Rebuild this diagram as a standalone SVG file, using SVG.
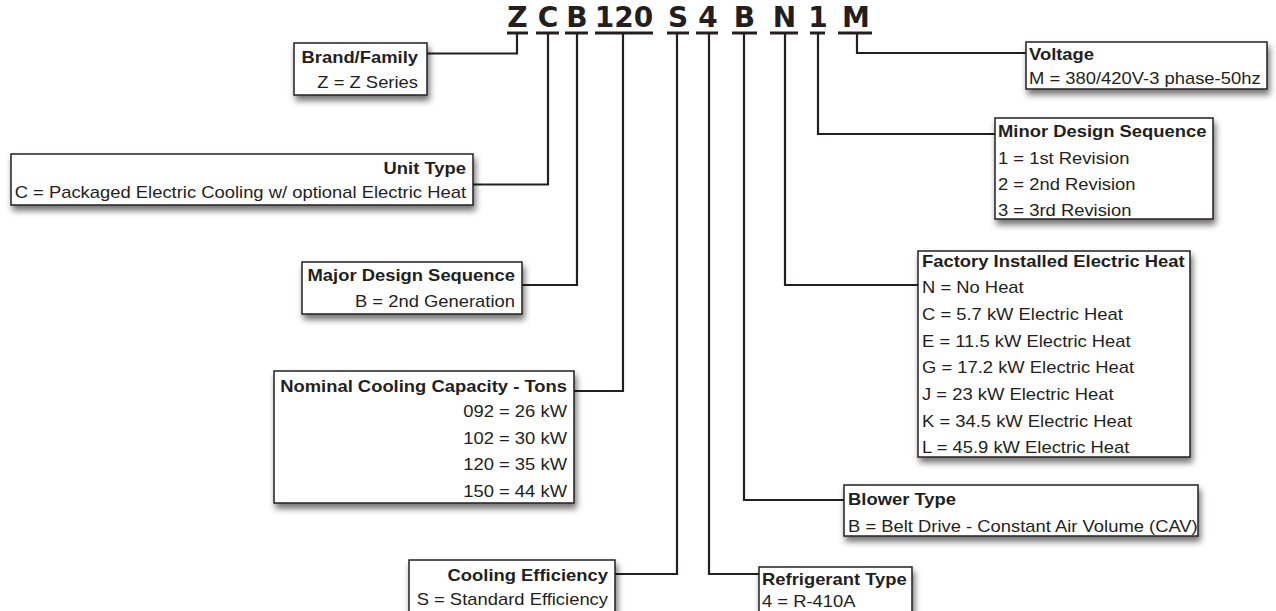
<svg xmlns="http://www.w3.org/2000/svg" width="1276" height="611" viewBox="0 0 1276 611">
<defs>
<style>
.code{font-family:"DejaVu Sans",sans-serif;font-weight:bold;font-size:28px;fill:#231f20;text-anchor:middle}
.ul{fill:#231f20}
.box{fill:#fff;stroke:#231f20;stroke-width:1.5;filter:url(#sh)}
.t{font-family:"Liberation Sans",Arial,sans-serif;font-size:16px;fill:#231f20}
.h{font-weight:bold}
.r{text-anchor:end}
.con{fill:none;stroke:#231f20;stroke-width:2.2}
</style>
<filter id="sh" x="-10%" y="-20%" width="130%" height="160%">
<feDropShadow dx="2" dy="5" stdDeviation="3" flood-color="#000" flood-opacity="0.55"/>
</filter>
</defs>
<rect width="1276" height="611" fill="#fff"/>

<g id="code">
<text class="code" x="517.5" y="27">Z</text>
<text class="code" x="548" y="27">C</text>
<text class="code" x="577" y="27">B</text>
<text class="code" x="624" y="27">120</text>
<text class="code" x="678" y="27">S</text>
<text class="code" x="708" y="27">4</text>
<text class="code" x="744.5" y="27">B</text>
<text class="code" x="784.5" y="27">N</text>
<text class="code" x="818" y="27">1</text>
<text class="code" x="856" y="27">M</text>
<rect class="ul" x="507" y="31.5" width="21" height="3"/>
<rect class="ul" x="536" y="31.5" width="23" height="3"/>
<rect class="ul" x="565" y="31.5" width="23" height="3"/>
<rect class="ul" x="595" y="31.5" width="58" height="3"/>
<rect class="ul" x="667" y="31.5" width="22" height="3"/>
<rect class="ul" x="696" y="31.5" width="22" height="3"/>
<rect class="ul" x="732" y="31.5" width="25" height="3"/>
<rect class="ul" x="770" y="31.5" width="28" height="3"/>
<rect class="ul" x="810" y="31.5" width="15" height="3"/>
<rect class="ul" x="838" y="31.5" width="34" height="3"/>
</g>

<g id="connectors">
<path class="con" d="M517,34 V53.5 H427"/>
<path class="con" d="M548,34 V184.5 H473"/>
<path class="con" d="M577,34 V285 H522"/>
<path class="con" d="M623,34 V391 H574"/>
<path class="con" d="M677,34 V574 H615"/>
<path class="con" d="M709,34 V574 H759"/>
<path class="con" d="M744,34 V500 H844"/>
<path class="con" d="M785,34 V285 H918"/>
<path class="con" d="M818,34 V134 H995"/>
<path class="con" d="M857,34 V53 H1026"/>
</g>

<g id="brand">
<rect class="box" x="294" y="43" width="133" height="52"/>
<text class="t h r" transform="translate(418,63) scale(1.15,1)">Brand/Family</text>
<text class="t r" transform="translate(418,88) scale(1.15,1)">Z = Z Series</text>
</g>

<g id="unit-type">
<rect class="box" x="11" y="154" width="462" height="51"/>
<text class="t h r" transform="translate(466,174) scale(1.15,1)">Unit Type</text>
<text class="t r" transform="translate(466,198) scale(1.15,1)">C = Packaged Electric Cooling w/ optional Electric Heat</text>
</g>

<g id="major-design">
<rect class="box" x="302" y="262" width="220" height="52"/>
<text class="t h r" transform="translate(515,281) scale(1.15,1)">Major Design Sequence</text>
<text class="t r" transform="translate(515,307) scale(1.15,1)">B = 2nd Generation</text>
</g>

<g id="nominal-capacity">
<rect class="box" x="274" y="371" width="300" height="132"/>
<text class="t h r" transform="translate(567,392) scale(1.15,1)">Nominal Cooling Capacity - Tons</text>
<text class="t r" transform="translate(567,417) scale(1.15,1)">092 = 26 kW</text>
<text class="t r" transform="translate(567,443.5) scale(1.15,1)">102 = 30 kW</text>
<text class="t r" transform="translate(567,470) scale(1.15,1)">120 = 35 kW</text>
<text class="t r" transform="translate(567,496.5) scale(1.15,1)">150 = 44 kW</text>
</g>

<g id="cooling-efficiency">
<rect class="box" x="409" y="560" width="206" height="62"/>
<text class="t h r" transform="translate(608,581) scale(1.15,1)">Cooling Efficiency</text>
<text class="t r" transform="translate(608,605) scale(1.15,1)">S = Standard Efficiency</text>
</g>

<g id="voltage">
<rect class="box" x="1026" y="42" width="241" height="47"/>
<text class="t h" transform="translate(1029,59.5) scale(1.15,1)">Voltage</text>
<text class="t" transform="translate(1029,83.5) scale(1.15,1)">M = 380/420V-3 phase-50hz</text>
</g>

<g id="minor-design">
<rect class="box" x="995" y="118" width="218" height="101"/>
<text class="t h" transform="translate(998,137) scale(1.15,1)">Minor Design Sequence</text>
<text class="t" transform="translate(998,163.5) scale(1.15,1)">1 = 1st Revision</text>
<text class="t" transform="translate(998,190) scale(1.15,1)">2 = 2nd Revision</text>
<text class="t" transform="translate(998,216) scale(1.15,1)">3 = 3rd Revision</text>
</g>

<g id="electric-heat">
<rect class="box" x="918" y="251" width="272" height="206"/>
<text class="t h" transform="translate(922,266.5) scale(1.15,1)">Factory Installed Electric Heat</text>
<text class="t" transform="translate(922,293) scale(1.15,1)">N = No Heat</text>
<text class="t" transform="translate(922,320) scale(1.15,1)">C = 5.7 kW Electric Heat</text>
<text class="t" transform="translate(922,346.5) scale(1.15,1)">E = 11.5 kW Electric Heat</text>
<text class="t" transform="translate(922,373) scale(1.15,1)">G = 17.2 kW Electric Heat</text>
<text class="t" transform="translate(922,400) scale(1.15,1)">J = 23 kW Electric Heat</text>
<text class="t" transform="translate(922,426.5) scale(1.15,1)">K = 34.5 kW Electric Heat</text>
<text class="t" transform="translate(922,453) scale(1.15,1)">L = 45.9 kW Electric Heat</text>
</g>

<g id="blower-type">
<rect class="box" x="844" y="485" width="354" height="51"/>
<text class="t h" transform="translate(848,505) scale(1.15,1)">Blower Type</text>
<text class="t" transform="translate(848,532) scale(1.15,1)">B = Belt Drive - Constant Air Volume (CAV)</text>
</g>

<g id="refrigerant-type">
<rect class="box" x="759" y="567" width="153" height="60"/>
<text class="t h" transform="translate(762,585) scale(1.15,1)">Refrigerant Type</text>
<text class="t" transform="translate(762,607) scale(1.15,1)">4 = R-410A</text>
</g>
</svg>
